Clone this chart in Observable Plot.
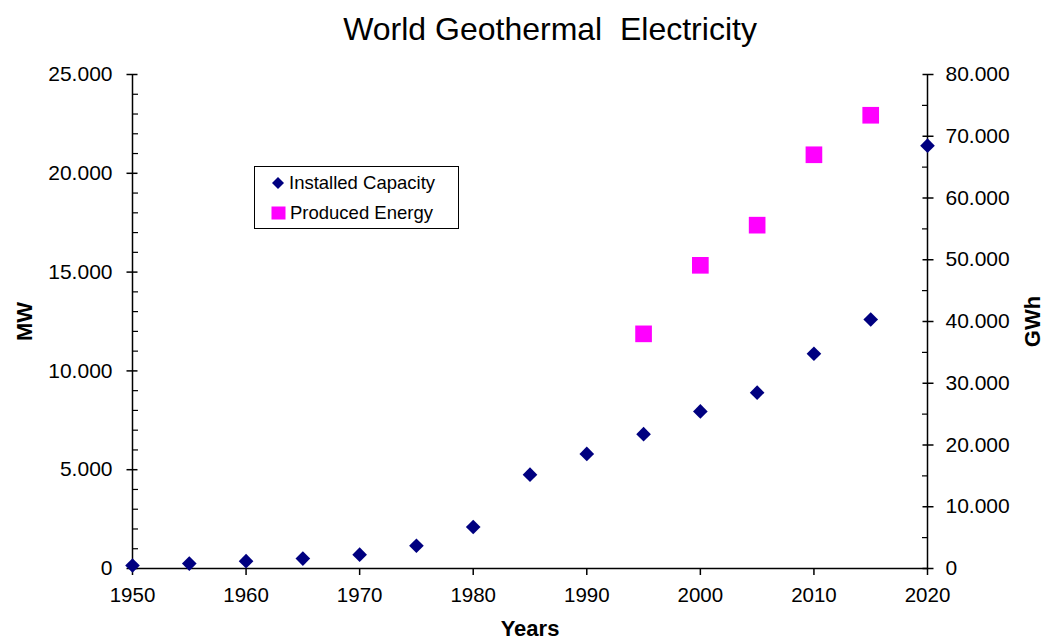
<!DOCTYPE html>
<html>
<head>
<meta charset="utf-8">
<script src="https://cdn.jsdelivr.net/npm/d3@7"></script>
<script src="https://cdn.jsdelivr.net/npm/@observablehq/plot@0.6"></script>
<style>
  body { margin: 0; background: #fff; }
  #wrap { position: relative; width: 1045px; height: 644px; font-family: "Liberation Sans", Arial, sans-serif; }
  #legend { position: absolute; left: 254px; top: 166px; width: 205px; height: 63px; border: 1.5px solid #000; background: #fff; box-sizing: border-box; font-size: 18.5px; color: #000; }
  .item { position: absolute; left: 16px; display: flex; align-items: center; white-space: nowrap; line-height: 20px; }
  .sym { display: inline-block; margin-right: 4px; }
</style>
</head>
<body>
<div id="wrap"></div>
<script>
// ---- data ----
const years = [1950, 1955, 1960, 1965, 1970, 1975, 1980, 1985, 1990, 1995, 2000, 2005, 2010, 2015, 2020];
const capacityMW = [150, 250, 370, 500, 700, 1150, 2100, 4750, 5800, 6800, 7950, 8900, 10870, 12600, 21400];
const energyYears = [1995, 2000, 2005, 2010, 2015];
const energyGWh = [38000, 49100, 55600, 67000, 73400];
const xTicks = [1950, 1960, 1970, 1980, 1990, 2000, 2010, 2020];
const leftTicks = [0, 5000, 10000, 15000, 20000, 25000];
const rightTicks = [0, 10000, 20000, 30000, 40000, 50000, 60000, 70000, 80000];
const seriesNames = ["Installed Capacity", "Produced Energy"];
const titleText = "World Geothermal  Electricity";

const leftMax = 25000, rightMax = 80000;
const toLeft = v => v * leftMax / rightMax;
const fromLeft = v => Math.round(v * rightMax / leftMax);
const fmt = d3.formatLocale({decimal: ",", thousands: ".", grouping: [3], currency: ["", ""]}).format(",d");

const capData = years.map((y, i) => ({year: y, mw: capacityMW[i]}));
const enData = energyYears.map((y, i) => ({year: y, gwh: energyGWh[i]}));
const leftMinor = d3.range(0, leftMax + 1, 1000).filter(v => v % 5000 !== 0);
const rightMinor = d3.range(5000, rightMax, 10000);

const chart = Plot.plot({
  width: 1045,
  height: 644,
  marginLeft: 132,
  marginRight: 118,
  marginTop: 74,
  marginBottom: 76,
  style: {fontFamily: '"Liberation Sans", Arial, sans-serif', color: "#000", background: "#fff"},
  x: {domain: [1950, 2020], axis: null},
  y: {domain: [0, leftMax], axis: null},
  marks: [
    // axis lines
    Plot.ruleX([1950, 2020], {stroke: "#000", strokeWidth: 1.5}),
    Plot.ruleY([0], {stroke: "#000", strokeWidth: 1.5}),
    // x axis
    Plot.axisX({ticks: xTicks, tickSize: 7, tickPadding: 12, tickFormat: "d", fontSize: 20.5, label: null, strokeWidth: 1.5}),
    // left axis: major crossing ticks, minor inward ticks, labels
    Plot.axisY({anchor: "left", ticks: leftTicks, tickSize: 11, dx: 5.5, tickFormat: () => "", label: null, strokeWidth: 1.5}),
    Plot.axisY({anchor: "left", ticks: leftMinor, tickSize: 6, dx: 6, tickFormat: () => "", label: null, strokeWidth: 1.2}),
    Plot.axisY({anchor: "left", ticks: leftTicks, tickSize: 0, tickPadding: 20, tickFormat: fmt, fontSize: 21, label: null}),
    // right axis
    Plot.axisY({anchor: "right", ticks: rightTicks.map(toLeft), tickSize: 11, dx: -5.5, tickFormat: () => "", label: null, strokeWidth: 1.5}),
    Plot.axisY({anchor: "right", ticks: rightMinor.map(toLeft), tickSize: 6, dx: -6, tickFormat: () => "", label: null, strokeWidth: 1.2}),
    Plot.axisY({anchor: "right", ticks: rightTicks.map(toLeft), tickSize: 0, tickPadding: 18, tickFormat: v => fmt(fromLeft(v)), fontSize: 21, label: null}),
    // titles
    Plot.text([titleText], {frameAnchor: "top", dy: -57, dx: 20, text: d => d, fontSize: 32}),
    Plot.text(["MW"], {frameAnchor: "left", dx: -108, text: d => d, rotate: -90, textAnchor: "middle", lineAnchor: "middle", fontSize: 22, fontWeight: "bold"}),
    Plot.text(["GWh"], {frameAnchor: "right", dx: 105, text: d => d, rotate: -90, textAnchor: "middle", lineAnchor: "middle", fontSize: 22, fontWeight: "bold"}),
    Plot.text(["Years"], {frameAnchor: "bottom", dy: 67, text: d => d, fontSize: 22, fontWeight: "bold"}),
    // data
    Plot.dot(enData, {x: "year", y: d => toLeft(d.gwh), symbol: "square", r: 9.4, fill: "#ff00ff", stroke: "none"}),
    Plot.dot(capData, {x: "year", y: "mw", symbol: "diamond2", r: 6.6, fill: "#000080", stroke: "none"})
  ]
});

const wrap = document.getElementById("wrap");
wrap.appendChild(chart);
chart.querySelectorAll("text").forEach(t => { if (t.textContent === titleText) t.style.whiteSpace = "pre"; });

const legend = document.createElement("div");
legend.id = "legend";
legend.innerHTML = `
  <div class="item" style="top:6px;"><svg class="sym" width="14" height="14"><path d="M7,1 L13,7 L7,13 L1,7 Z" fill="#000080"/></svg><span>${seriesNames[0]}</span></div>
  <div class="item" style="top:36px;"><svg class="sym" width="15" height="14"><rect x="0.5" y="0.5" width="14" height="13" fill="#ff00ff"/></svg><span>${seriesNames[1]}</span></div>`;
wrap.appendChild(legend);
</script>
</body>
</html>
